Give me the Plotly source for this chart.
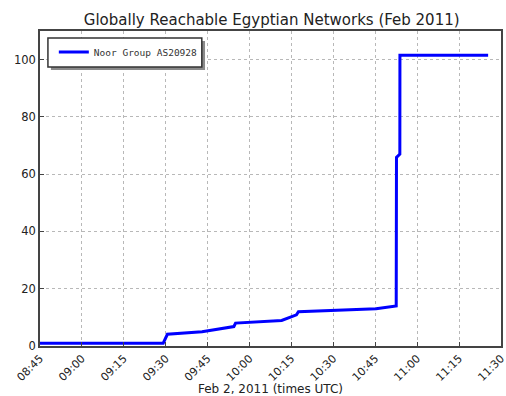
import plotly.graph_objects as go

times = ["2011-02-02 08:45:00", "2011-02-02 09:29:06", "2011-02-02 09:30:36",
         "2011-02-02 09:43:00", "2011-02-02 09:54:24", "2011-02-02 09:55:00",
         "2011-02-02 10:11:30", "2011-02-02 10:16:48", "2011-02-02 10:17:30",
         "2011-02-02 10:45:18", "2011-02-02 10:52:30", "2011-02-02 10:52:36",
         "2011-02-02 10:53:48", "2011-02-02 10:53:50", "2011-02-02 11:25:24"]
networks = [1, 1, 4.1, 5.0, 6.8, 8.0, 8.9, 10.9, 12.0, 13.0, 14.0, 65.9, 67, 101.5, 101.5]

tick_vals = ["2011-02-02 08:45", "2011-02-02 09:00", "2011-02-02 09:15", "2011-02-02 09:30",
             "2011-02-02 09:45", "2011-02-02 10:00", "2011-02-02 10:15", "2011-02-02 10:30",
             "2011-02-02 10:45", "2011-02-02 11:00", "2011-02-02 11:15", "2011-02-02 11:30"]
tick_text = ["08:45", "09:00", "09:15", "09:30", "09:45", "10:00", "10:15", "10:30",
             "10:45", "11:00", "11:15", "11:30"]

font = "DejaVu Sans, sans-serif"

fig = go.Figure()
fig.add_trace(go.Scatter(x=times, y=networks, mode="lines", name="Noor Group AS20928",
                         line=dict(color="#0000ff", width=3)))

# legend box with shadow
fig.add_shape(type="rect", xref="paper", yref="paper", x0=0.0237, x1=0.358, y0=0.876, y1=0.968,
              line=dict(width=0), fillcolor="#8a8a8a", layer="above")
fig.add_shape(type="rect", xref="paper", yref="paper", x0=0.0172, x1=0.351, y0=0.886, y1=0.978,
              line=dict(width=1.5, color="#333333"), fillcolor="white", layer="above")

fig.update_layout(
    width=506, height=396,
    margin=dict(l=40, r=5, t=31, b=50),
    paper_bgcolor="white", plot_bgcolor="white",
    font=dict(family=font, color="#222222", size=11.5),
    title=dict(text="Globally Reachable Egyptian Networks (Feb 2011)", x=0.537, xanchor="center",
               y=0.949, yanchor="middle", font=dict(size=15, color="#222222")),
    showlegend=True,
    legend=dict(x=0.030, y=0.933, xanchor="left", yanchor="middle",
                bgcolor="rgba(0,0,0,0)", borderwidth=0,
                font=dict(family="DejaVu Sans Mono, monospace", size=9.5, color="#333333")),
    xaxis=dict(range=["2011-02-02 08:45:00", "2011-02-02 11:30:00.5"], tickvals=tick_vals, ticktext=tick_text,
               tickangle=-45, showgrid=True, gridcolor="#b8b8b8", griddash="dot", gridwidth=1,
               showline=True, linecolor="#444444", linewidth=1.5, mirror=True,
               ticks="inside", ticklen=4, tickcolor="#444444", automargin=False,
               ticklabeloverflow="allow", tickfont=dict(size=11),
               title=dict(text="Feb 2, 2011 (times UTC)", font=dict(size=12), standoff=2),
               zeroline=False),
    yaxis=dict(range=[0, 110], tickvals=[0, 20, 40, 60, 80, 100], showgrid=True,
               gridcolor="#b8b8b8", griddash="dot", gridwidth=1, automargin=False,
               showline=True, linecolor="#444444", linewidth=1.5, mirror=True,
               ticks="inside", ticklen=4, tickcolor="#444444", zeroline=False),
)

fig.write_html("out.html")
